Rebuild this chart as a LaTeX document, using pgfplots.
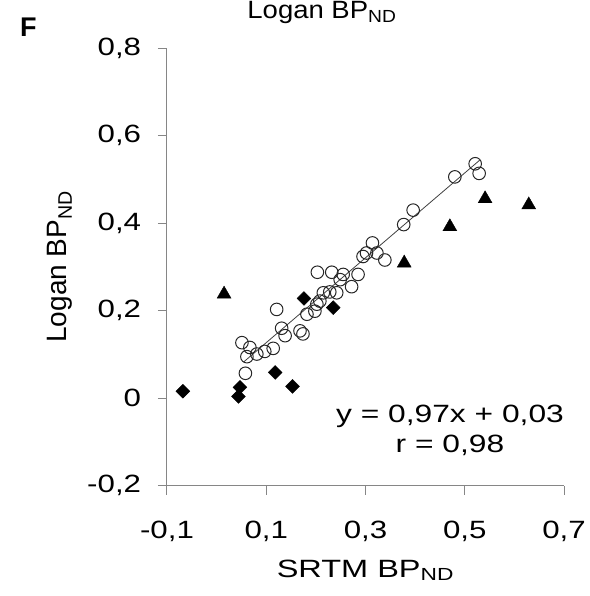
\documentclass[border=0pt]{standalone}
\usepackage{fontspec}
\setmainfont{Liberation Sans}
\usepackage{pgfplots}
\pgfplotsset{compat=1.18}
\definecolor{axgray}{RGB}{134,134,134}
\newcommand{\fs}{\fontsize{25bp}{30bp}\selectfont}
\begin{document}
\begin{tikzpicture}
\useasboundingbox (-167bp,-110.3bp) rectangle (423bp,485.7bp);
\begin{axis}[
  at={(0,0)}, anchor=south west,
  scale only axis, width=397bp, height=437.4bp,
  xmin=-0.1, xmax=0.7, ymin=-0.2, ymax=0.8,
  axis lines*=left,
  axis line style={color=axgray, line width=1bp},
  xtick={-0.1,0.1,0.3,0.5,0.7},
  xticklabels={{-0,1},{0,1},{0,3},{0,5},{0,7}},
  ytick={-0.2,0,0.2,0.4,0.6,0.8},
  yticklabels={{-0,2},0,{0,2},{0,4},{0,6},{0,8}},
  tick align=outside, major tick length=9bp,
  tick style={color=axgray, line width=1bp},
  tick label style={font=\fs, xscale=1.25},
  xticklabel style={yshift=-23bp},
  yticklabel style={xshift=-10bp},
  clip=false,
]
% open circles
\addplot[only marks, mark=o, mark size=6.3bp, mark options={line width=1bp, draw=black!85}] coordinates {
(0.121,0.203) (0.051,0.127) (0.067,0.116) (0.061,0.095) (0.081,0.101)
(0.097,0.107) (0.114,0.114) (0.058,0.057) (0.131,0.160) (0.138,0.143)
(0.168,0.154) (0.174,0.147) (0.182,0.192) (0.202,0.215) (0.208,0.222)
(0.198,0.199) (0.215,0.241) (0.228,0.243) (0.242,0.241) (0.272,0.255)
(0.285,0.283) (0.255,0.283) (0.232,0.288) (0.203,0.288) (0.249,0.271)
(0.295,0.324) (0.302,0.332) (0.314,0.355) (0.323,0.332) (0.339,0.316)
(0.377,0.397) (0.396,0.430) (0.480,0.506) (0.521,0.536) (0.529,0.514)
};
% diamonds
\addplot[only marks, mark=square*, mark size=4.9bp, mark options={rotate=45, fill=black, draw=black}] coordinates {
(-0.068,0.016) (0.047,0.025) (0.044,0.004) (0.118,0.059) (0.153,0.027)
(0.176,0.228) (0.235,0.207)
};
% triangles
\addplot[only marks, mark=triangle*, mark size=8bp, mark options={fill=black, draw=black}] coordinates {
(0.015,0.238) (0.378,0.309) (0.470,0.392) (0.541,0.456) (0.629,0.442)
};
% regression line y = 0.97x + 0.03
\addplot[no marks, color=black!75, line width=0.8bp] coordinates {(0.055,0.0834) (0.53,0.5441)};
\end{axis}
\node[anchor=base, font=\fs, xscale=1.27] at (283bp,62.7bp) {y = 0,97x + 0,03};
\node[anchor=base, font=\fs, xscale=1.27] at (283bp,33.7bp) {r = 0,98};
\node[anchor=base, font=\fs, xscale=1.3] at (198.5bp,-91.3bp) {SRTM BP\textsubscript{ND}};
\node[anchor=base, rotate=90, font=\fontsize{28bp}{34bp}\selectfont] at (-100bp,219bp) {Logan BP\textsubscript{ND}};
\node[anchor=base, font=\fs, xscale=1.1] at (155bp,467.3bp) {Logan BP\textsubscript{ND}};
\node[anchor=base west, inner sep=0pt, font=\bfseries\fontsize{27bp}{32bp}\selectfont] at (-147bp,448.7bp) {F};
\end{tikzpicture}
\end{document}
